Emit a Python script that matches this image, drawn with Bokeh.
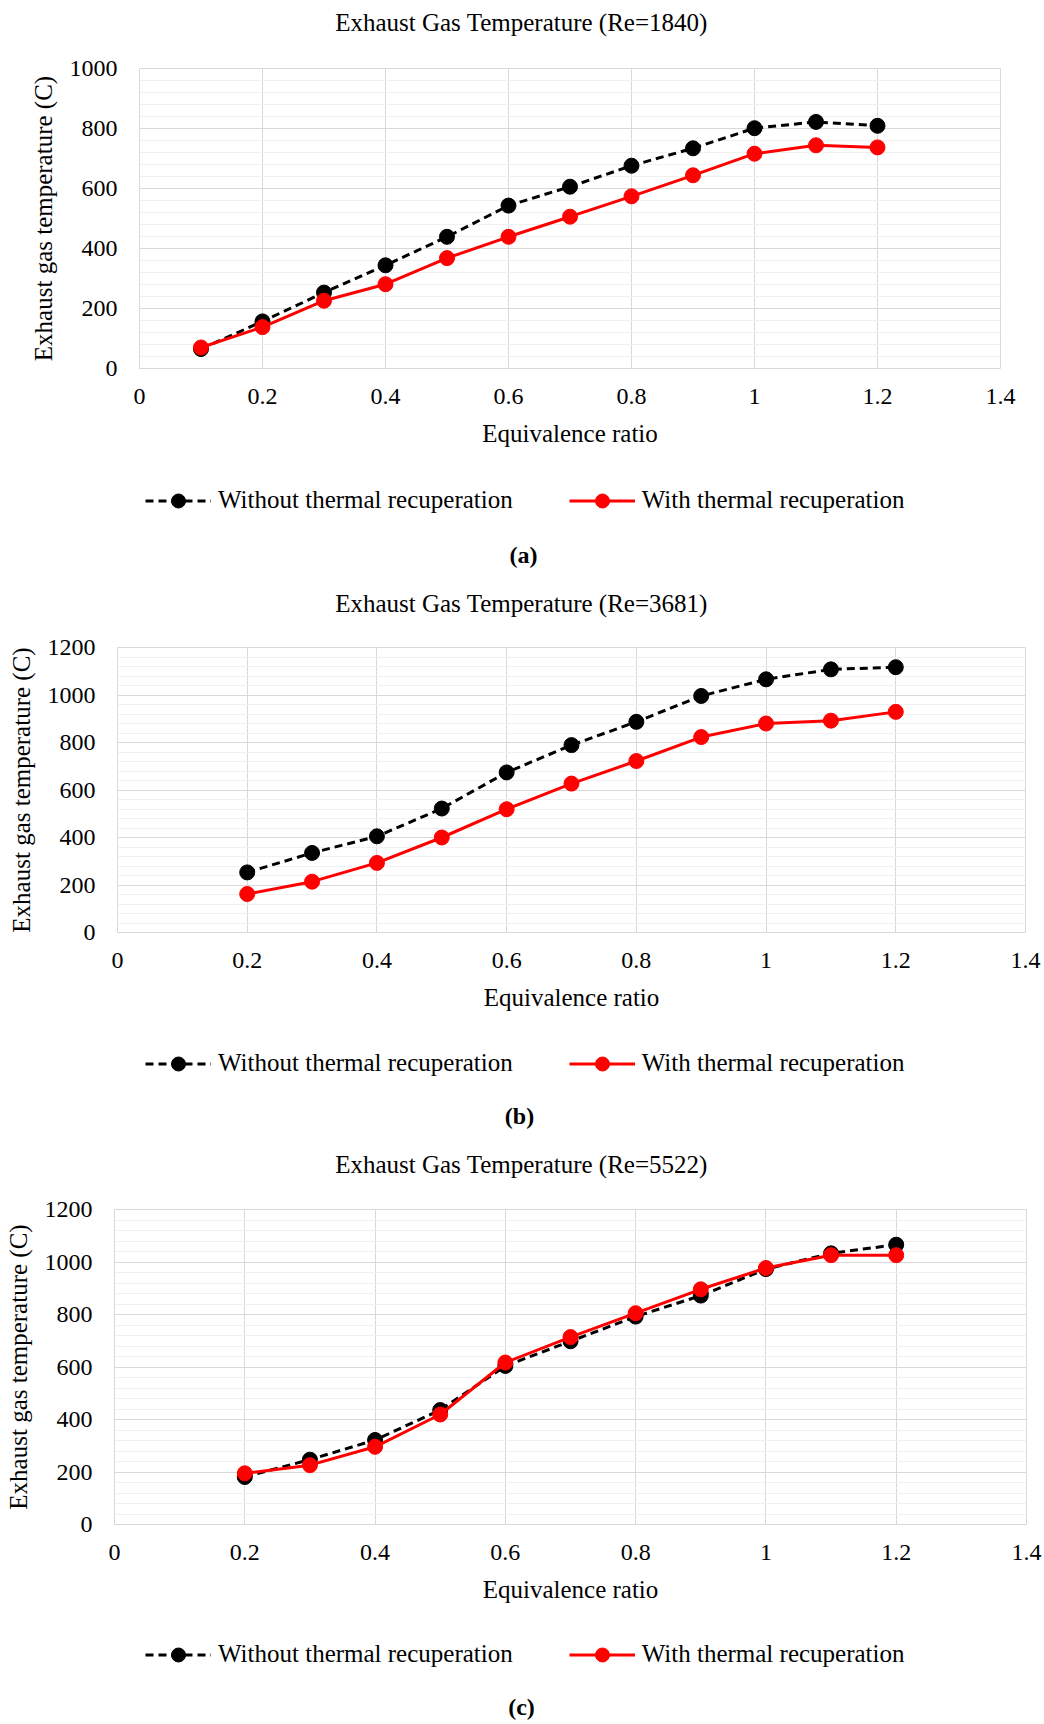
from bokeh.plotting import figure
from bokeh.layouts import column
from bokeh.models import (Legend, LegendItem, FixedTicker, SingleIntervalTicker,
                          Range1d, NumeralTickFormatter)
from bokeh.core.properties import value
from bokeh.embed import file_html
from bokeh.resources import INLINE

# ---------------- data ----------------
phi_a = [0.1, 0.2, 0.3, 0.4, 0.5, 0.6, 0.7, 0.8, 0.9, 1.0, 1.1, 1.2]
without_a = [65, 157, 253, 344, 439, 543, 606, 676, 734, 801, 822, 809]
with_a = [70, 138, 226, 281, 368, 439, 506, 574, 644, 716, 744, 737]

phi_b = [0.2, 0.3, 0.4, 0.5, 0.6, 0.7, 0.8, 0.9, 1.0, 1.1, 1.2]
without_b = [253, 335, 405, 522, 674, 789, 887, 996, 1066, 1108, 1117]
with_b = [162, 214, 293, 400, 519, 627, 722, 823, 880, 892, 929]

phi_c = [0.2, 0.3, 0.4, 0.5, 0.6, 0.7, 0.8, 0.9, 1.0, 1.1, 1.2]
without_c = [181, 247, 322, 436, 604, 698, 792, 872, 973, 1033, 1066]
with_c = [195, 226, 296, 419, 617, 714, 805, 896, 977, 1026, 1026]

x_ticks = [0, 0.2, 0.4, 0.6, 0.8, 1, 1.2, 1.4]
x_tick_labels = ["0", "0.2", "0.4", "0.6", "0.8", "1", "1.2", "1.4"]
y_max = [1000, 1200, 1200]

titles = ["Exhaust Gas Temperature (Re=1840)",
          "Exhaust Gas Temperature (Re=3681)",
          "Exhaust Gas Temperature (Re=5522)"]
captions = ["(a)", "(b)", "(c)"]
series_names = ["Without thermal recuperation", "With thermal recuperation"]
x_label = "Equivalence ratio"
y_label = "Exhaust gas temperature (C)"

FONT = "Liberation Serif"
GRID = "#d9d9d9"
MINOR = "#f0f0f0"
W = 1044

BLACK_LINE = dict(line_color="black", line_width=3, line_dash="8 5")
BLACK_DOT = dict(marker="circle", size=15, fill_color="black", line_color="black")
RED_LINE = dict(line_color="#ff0000", line_width=3)
RED_DOT = dict(marker="circle", size=15, fill_color="#ff0000", line_color="#ff0000")


def blank(height):
    p = figure(width=W, height=height, output_backend="svg", toolbar_location=None,
               x_range=Range1d(0, W), y_range=Range1d(0, height),
               x_axis_type=None, y_axis_type=None, min_border=0,
               background_fill_color="white", border_fill_color="white")
    p.outline_line_color = None
    p.frame_align = False
    return p


def text_fig(height, cx, cy, text, size, style="normal"):
    p = blank(height)
    p.text(x=[cx], y=[height - cy], text=[text], text_font=value(FONT),
           text_font_size=size, text_font_style=style, text_color="black",
           text_align="center", text_baseline="middle")
    return p


def legend_fig(height, lx, cy, phi, y_wo, y_w):
    # the legend's own (hidden) copies of the two series supply its glyphs
    p = blank(height)
    r1 = p.line(phi, y_wo, visible=False, **BLACK_LINE)
    r2 = p.scatter(phi, y_wo, visible=False, **BLACK_DOT)
    r3 = p.line(phi, y_w, visible=False, **RED_LINE)
    r4 = p.scatter(phi, y_w, visible=False, **RED_DOT)
    gh = 35
    legend = Legend(items=[LegendItem(label=series_names[0], renderers=[r1, r2]),
                           LegendItem(label=series_names[1], renderers=[r3, r4])],
                    orientation="horizontal", location=(lx, height - cy - gh / 2),
                    margin=0, padding=0, spacing=56, glyph_width=66, glyph_height=gh,
                    label_height=28, label_standoff=7,
                    label_text_font=FONT, label_text_font_size="25px",
                    label_text_color="black", border_line_color=None,
                    background_fill_alpha=0, inactive_fill_alpha=0)
    p.add_layout(legend, "center")
    return p


def plot_fig(phi, y_wo, y_w, ymax, height, left, right, top, frame_h):
    p = figure(width=W, height=height, output_backend="svg", toolbar_location=None,
               x_range=Range1d(0, 1.4), y_range=Range1d(0, ymax),
               min_border_left=left, min_border_right=right, min_border_top=top,
               min_border_bottom=height - top - frame_h,
               background_fill_color="white", border_fill_color="white")
    p.frame_align = False
    p.outline_line_color = GRID
    p.outline_line_width = 1

    p.xaxis.ticker = FixedTicker(ticks=x_ticks)
    p.xaxis.formatter = NumeralTickFormatter(format="0.[0]")
    p.xaxis.major_label_overrides = {t: l for t, l in zip(x_ticks, x_tick_labels)}
    p.yaxis.ticker = SingleIntervalTicker(interval=200, num_minor_ticks=5)
    p.xgrid.ticker = FixedTicker(ticks=x_ticks)

    for ax in (p.xaxis[0], p.yaxis[0]):
        ax.axis_line_color = None
        ax.major_tick_line_color = None
        ax.minor_tick_line_color = None
        ax.major_tick_out = 0
        ax.major_tick_in = 0
        ax.minor_tick_out = 0
        ax.minor_tick_in = 0
        ax.major_label_text_font = FONT
        ax.major_label_text_font_size = "24px"
        ax.major_label_text_color = "black"
        ax.axis_label_text_font = FONT
        ax.axis_label_text_font_size = "25px"
        ax.axis_label_text_font_style = "normal"
        ax.axis_label_text_color = "black"
    p.xaxis.axis_label = x_label
    p.yaxis.axis_label = y_label
    p.xaxis.major_label_standoff = 20
    p.xaxis.axis_label_standoff = 13
    p.yaxis.major_label_standoff = 22
    p.yaxis.axis_label_standoff = 10

    p.xgrid.grid_line_color = GRID
    p.ygrid.grid_line_color = GRID
    p.ygrid.minor_grid_line_color = MINOR

    p.line(phi, y_wo, **BLACK_LINE)
    p.scatter(phi, y_wo, **BLACK_DOT)
    p.line(phi, y_w, **RED_LINE)
    p.scatter(phi, y_w, **RED_DOT)
    return p


# chart (a): page 0..580, frame 139..1000 x 68..368
ta = text_fig(44, 521, 22, titles[0], "25px")
pa = plot_fig(phi_a, without_a, with_a, y_max[0], 412, 139, 44, 24, 300)
la = legend_fig(72, 145, 44, phi_a, without_a, with_a)
ca = text_fig(52, 523, 26, captions[0], "24px", "bold")

# chart (b): page 580..1140, frame 117..1025 x 647..932
tb = text_fig(47, 521, 23, titles[1], "25px")
pb = plot_fig(phi_b, without_b, with_b, y_max[1], 393, 117, 19, 20, 285)
lb = legend_fig(70, 145, 43, phi_b, without_b, with_b)
cb = text_fig(50, 519, 25, captions[1], "24px", "bold")

# chart (c): page 1140..1724, frame 114..1026 x 1209..1524
tc = text_fig(46, 521, 24, titles[2], "25px")
pc = plot_fig(phi_c, without_c, with_c, y_max[2], 426, 114, 18, 23, 315)
lc = legend_fig(68, 145, 42, phi_c, without_c, with_c)
cc = text_fig(44, 521, 26, captions[2], "24px", "bold")

layout = column(ta, pa, la, ca, tb, pb, lb, cb, tc, pc, lc, cc, spacing=0)
open("out.html", "w").write(file_html(layout, INLINE))
